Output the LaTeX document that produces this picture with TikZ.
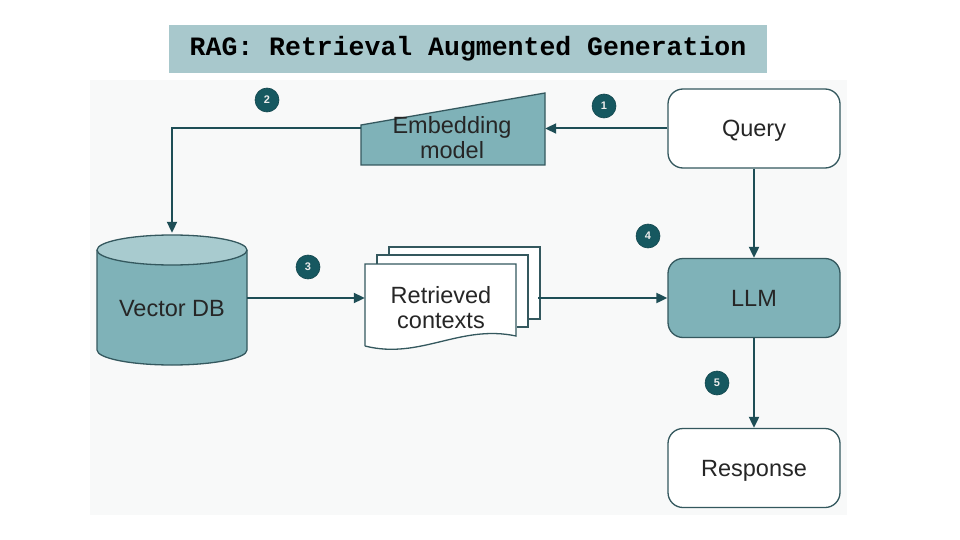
\documentclass[tikz,border=0pt]{standalone}
\usepackage{fontspec}
\setmainfont{Liberation Sans}
\newfontfamily\titlefont{Liberation Mono}
\usetikzlibrary{arrows.meta,positioning}
\definecolor{teal1}{RGB}{127,178,184}
\definecolor{teal2}{RGB}{168,203,207}
\definecolor{titlebg}{RGB}{168,200,204}
\definecolor{linec}{RGB}{30,78,86}
\definecolor{circc}{RGB}{22,88,96}
\definecolor{panelbg}{RGB}{248,249,249}
\definecolor{boxedge}{RGB}{52,88,94}
\tikzset{
  conn/.style={draw=linec, line width=2pt, -{Triangle[length=11pt,width=10pt]}},
  whitebox/.style={draw=boxedge, line width=1.3pt, fill=white, rounded corners=15pt, minimum width=172pt, minimum height=79pt, text=black!85, text height=17pt, text depth=1pt, font=\fontsize{23.5}{25}\selectfont},
  tealbox/.style={whitebox, fill=teal1},
  numcirc/.style={circle, fill=circc, draw=circc!80!black, line width=0.6pt, minimum size=24pt, inner sep=0pt, text=white!85!gray, font=\bfseries\fontsize{11}{12}\selectfont},
  label/.style={font=\fontsize{23.5}{25}\selectfont, text=black!85, align=center, inner sep=0pt},
  ghost/.style={inner sep=0pt, draw=none},
}
\begin{document}
\begin{tikzpicture}[x=1pt,y=-1pt]
\useasboundingbox (0,0) rectangle (960,540);
\fill[white] (0,0) rectangle (960,540);
% panel
\fill[panelbg] (90,80) rectangle (847,515);
% title
\node[ghost, fill=titlebg, minimum width=598pt, minimum height=48pt, font=\titlefont\bfseries\fontsize{26.5}{30}\selectfont] (title) at (468,49) {RAG: Retrieval Augmented Generation};

% Query, LLM, Response
\node[whitebox] (query) at (754,128.5) {Query};
\node[tealbox] (llm) at (754,298) {LLM};
\node[whitebox] (resp) at (754,468) {Response};

% Embedding model trapezoid
\fill[teal1] (361,125) -- (545,93) -- (545,165) -- (361,165) -- cycle;
\draw[boxedge, line width=1.3pt] (361,125) -- (545,93) -- (545,165) -- (361,165) -- cycle;
\node[ghost, minimum width=184pt, minimum height=72pt] (emb) at (453,128.5) {};
\node[label] (embtxt) at (452,138) {Embedding\\model};

% Vector DB cylinder
\fill[teal1] (97,250) -- (97,350) arc[start angle=180, end angle=360, x radius=75, y radius=-15] -- (247,250) -- cycle;
\draw[boxedge, line width=1.3pt] (97,250) -- (97,350) arc[start angle=180, end angle=360, x radius=75, y radius=-15] -- (247,250);
\draw[boxedge, line width=1.3pt, fill=teal2] (172,250) ellipse[x radius=75, y radius=15];
\node[ghost, minimum width=150pt, minimum height=132pt] (db) at (172,299) {};
\node[label] (dbtxt) at (172,309) {Vector DB};

% Retrieved contexts stack
\foreach \dx/\dy in {24/-17, 12/-9}{
  \draw[boxedge, line width=1.3pt, fill=white] (365+\dx,346+\dy) -- (365+\dx,264+\dy) -- (516+\dx,264+\dy) -- (516+\dx,336+\dy) -- (365+\dx+140,336+\dy);
}
\draw[boxedge, line width=1.3pt, fill=white] (365,346) -- (365,264) -- (516,264) -- (516,336) .. controls (460,324) and (420,360) .. (365,346);
\node[ghost, minimum width=151pt, minimum height=82pt] (docs) at (440.5,305) {};
\coordinate (docsright) at (538,298);
\node[label] (doctxt) at (441,308) {Retrieved\\contexts};

% connectors
\draw[conn] (query.west) -- (emb.east);
\draw[conn] (emb.west) -| (db.north);
\draw[conn] (db.east |- 0,298) -- (docs.west |- 0,298);
\draw[conn] (docsright) -- (llm.west);
\draw[conn] (query.south) -- (llm.north);
\draw[conn] (llm.south) -- (resp.north);

% numbered circles
\node[numcirc] (n1) at (604,106) {1};
\node[numcirc] (n2) at (267,100) {2};
\node[numcirc] (n3) at (308,267) {3};
\node[numcirc] (n4) at (648,236) {4};
\node[numcirc] (n5) at (717,383) {5};
\end{tikzpicture}
\end{document}
